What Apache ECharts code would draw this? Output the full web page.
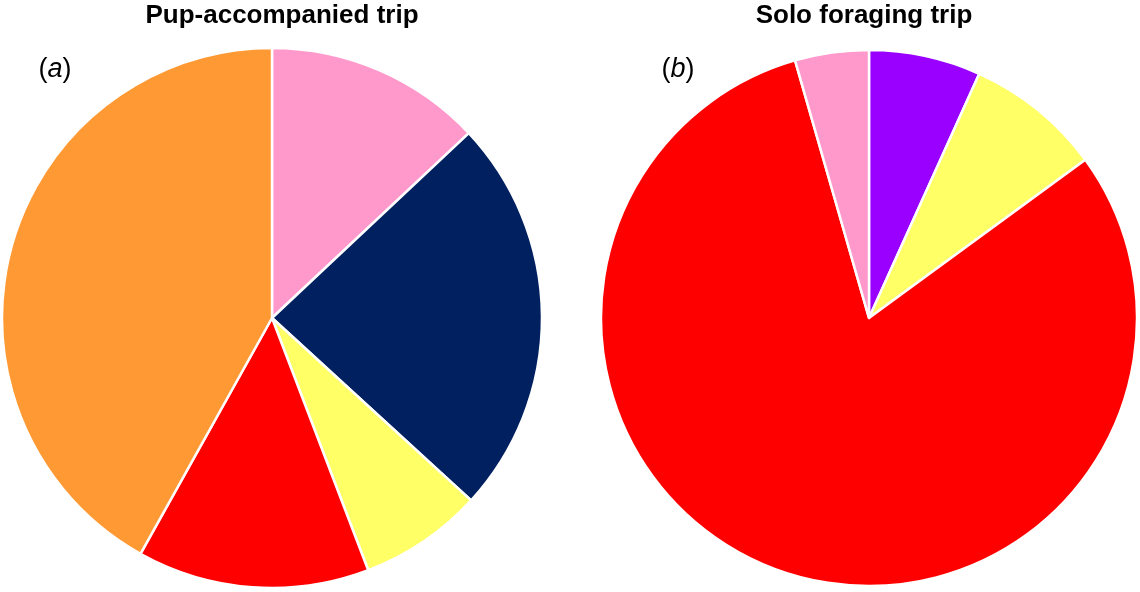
<!DOCTYPE html>
<html>
<head>
<meta charset="utf-8">
<script src="https://cdn.jsdelivr.net/npm/echarts@6/dist/echarts.min.js"></script>
<style>
html,body{margin:0;padding:0;background:#fff;}
#chart{width:1140px;height:592px;}
</style>
</head>
<body>
<div id="chart"></div>
<script>
// Panel (a): Pup-accompanied trip (percent shares, clockwise from 12 o'clock)
const pupCategories = ['Pink', 'Navy', 'Yellow', 'Red', 'Orange'];
const pupValues = [13.0, 23.8, 7.4, 13.9, 41.9];
const pupColors = ['#FF99CC', '#002060', '#FFFF66', '#FF0000', '#FF9933'];

// Panel (b): Solo foraging trip
const soloCategories = ['Purple', 'Yellow', 'Red', 'Pink'];
const soloValues = [6.75, 8.2, 80.6, 4.45];
const soloColors = ['#9900FF', '#FFFF66', '#FF0000', '#FF99CC'];

const titles = ['Pup-accompanied trip', 'Solo foraging trip'];
const panelLetters = ['a', 'b'];

function toData(cats, vals, cols) {
  return cats.map((c, i) => ({ name: c, value: vals[i], itemStyle: { color: cols[i] } }));
}

const chart = echarts.init(document.getElementById('chart'), null, { renderer: 'canvas' });
const font = "'Liberation Sans', Arial, Helvetica, sans-serif";

function letterTitle(letter, x) {
  return {
    text: '{p|(}{i|' + letter + '}{p|)}', left: x, top: 56, textAlign: 'center', padding: 0,
    textStyle: {
      fontWeight: 'normal',
      rich: {
        p: { fontSize: 27, color: '#000', fontFamily: font, fontWeight: 'normal' },
        i: { fontSize: 27, color: '#000', fontFamily: font, fontWeight: 'normal', fontStyle: 'italic' }
      }
    }
  };
}

const option = {
  animation: false,
  backgroundColor: '#fff',
  title: [
    { text: titles[0], left: 282, top: 3, textAlign: 'center', padding: 0,
      textStyle: { fontSize: 26, fontWeight: 'bold', color: '#000', fontFamily: font } },
    { text: titles[1], left: 864, top: 3, textAlign: 'center', padding: 0,
      textStyle: { fontSize: 26, fontWeight: 'bold', color: '#000', fontFamily: font } },
    letterTitle(panelLetters[0], 55),
    letterTitle(panelLetters[1], 678)
  ],
  series: [
    {
      type: 'pie',
      center: [272, 318],
      radius: 270,
      startAngle: 90,
      clockwise: true,
      label: { show: false },
      labelLine: { show: false },
      emphasis: { disabled: true },
      itemStyle: { borderColor: '#fff', borderWidth: 2.5 },
      data: toData(pupCategories, pupValues, pupColors)
    },
    {
      type: 'pie',
      center: [869, 318],
      radius: 268,
      startAngle: 90,
      clockwise: true,
      label: { show: false },
      labelLine: { show: false },
      emphasis: { disabled: true },
      itemStyle: { borderColor: '#fff', borderWidth: 2.5 },
      data: toData(soloCategories, soloValues, soloColors)
    }
  ]
};
chart.setOption(option);
</script>
</body>
</html>
